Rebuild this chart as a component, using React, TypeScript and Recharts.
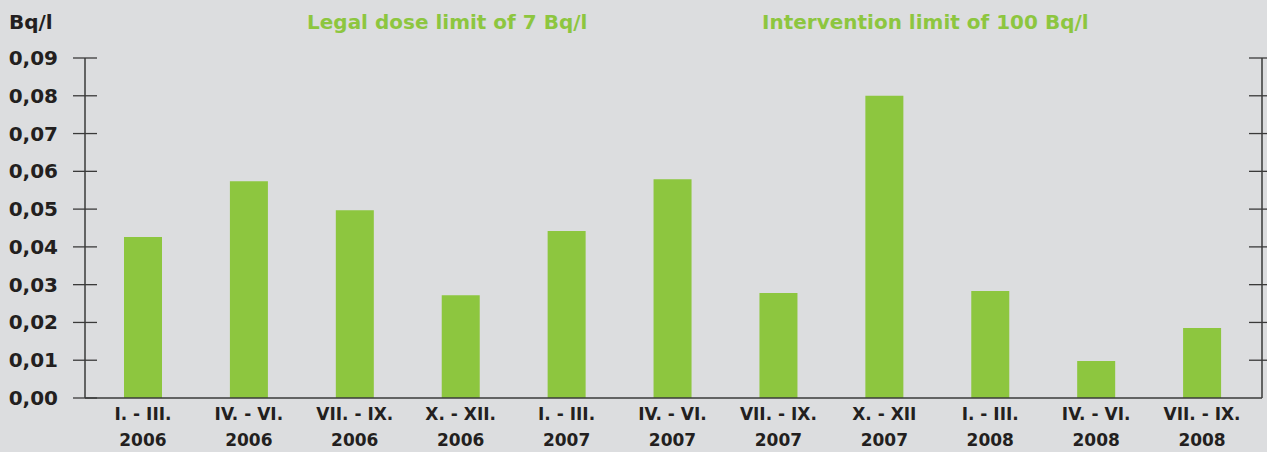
import React from 'react';
import { ComposedChart, Bar, Line, XAxis, YAxis } from 'recharts';

const periods = ['I. - III.', 'IV. - VI.', 'VII. - IX.', 'X. - XII.', 'I. - III.', 'IV. - VI.', 'VII. - IX.', 'X. - XII', 'I. - III.', 'IV. - VI.', 'VII. - IX.'];
const years = ['2006', '2006', '2006', '2006', '2007', '2007', '2007', '2007', '2008', '2008', '2008'];
const values = [0.0426, 0.0574, 0.0497, 0.0272, 0.0442, 0.0579, 0.0278, 0.080, 0.0283, 0.0098, 0.0185];
const yTicks = [0, 0.01, 0.02, 0.03, 0.04, 0.05, 0.06, 0.07, 0.08, 0.09];
const unitLabel = 'Bq/l';
const titles = ['Legal dose limit of 7 Bq/l', 'Intervention limit of 100 Bq/l'];

const data = periods.map((p, i) => ({ key: i, period: p, year: years[i], value: values[i] }));

const FONT = '"DejaVu Sans", sans-serif';
const TEXT = '#231f20';
const GREEN = '#8dc63f';
const AXIS = '#3a3a3a';

const LeftTick = (props: any) => {
  const { x, y, payload } = props;
  const ax = x + 16;
  return (
    <g>
      <line x1={ax - 12} x2={ax + 12} y1={y} y2={y} stroke={AXIS} strokeWidth={1.3} />
      <text x={x - 11} y={y} dy={7} textAnchor="end" fontFamily={FONT} fontWeight="bold" fontSize={20} fill={TEXT}>
        {payload.value.toFixed(2).replace('.', ',')}
      </text>
    </g>
  );
};

const RightTick = (props: any) => {
  const { x, y, payload } = props;
  if (payload.value === 0) return <g />;
  return <line x1={x - 13} x2={x + 6} y1={y} y2={y} stroke={AXIS} strokeWidth={1.3} />;
};

const XTick = (props: any) => {
  const { x, y, payload } = props;
  const d = data[payload.value];
  return (
    <g>
      <text x={x} y={y} dy={14} textAnchor="middle" fontFamily={FONT} fontWeight="bold" fontSize={17} fill={TEXT}>
        {d.period}
      </text>
      <text x={x} y={y} dy={40} textAnchor="middle" fontFamily={FONT} fontWeight="bold" fontSize={17} fill={TEXT}>
        {d.year}
      </text>
    </g>
  );
};

export default function App() {
  return (
    <div style={{ position: 'absolute', left: 0, top: 0, width: 1267, height: 452, background: '#dcdddf', overflow: 'hidden' }}>
      <div style={{ position: 'absolute', left: 9, top: 10, fontFamily: FONT, fontWeight: 'bold', fontSize: 20, color: TEXT }}>{unitLabel}</div>
      <div style={{ position: 'absolute', left: 307, top: 10, fontFamily: FONT, fontWeight: 'bold', fontSize: 20, color: GREEN }}>{titles[0]}</div>
      <div style={{ position: 'absolute', left: 762, top: 10, fontFamily: FONT, fontWeight: 'bold', fontSize: 20, color: GREEN }}>{titles[1]}</div>
      <div style={{ position: 'absolute', left: 0, top: 0 }}>
        <ComposedChart width={1267} height={452} data={data} margin={{ top: 58, right: 0, bottom: 0, left: 0 }}>
          <XAxis
            dataKey="key"
            type="category"
            height={54}
            tick={<XTick />}
            tickLine={false}
            axisLine={{ stroke: AXIS, strokeWidth: 1.5 }}
            padding={{ left: 5, right: 7 }}
            interval={0}
          />
          <YAxis
            yAxisId="left"
            width={85}
            domain={[0, 0.09]}
            ticks={yTicks}
            tickLine={false}
            tickSize={12}
            tickMargin={4}
            tick={<LeftTick />}
            axisLine={{ stroke: AXIS, strokeWidth: 1.5 }}
            interval={0}
          />
          <YAxis
            yAxisId="right"
            orientation="right"
            width={5}
            domain={[0, 0.09]}
            ticks={yTicks}
            tickLine={false}
            tickSize={0}
            tickMargin={0}
            tick={<RightTick />}
            axisLine={{ stroke: AXIS, strokeWidth: 1.5 }}
            interval={0}
          />
          <Bar yAxisId="left" dataKey="value" fill={GREEN} barSize={38} isAnimationActive={false} />
          <Line yAxisId="right" dataKey="value" stroke="none" dot={false} activeDot={false} legendType="none" isAnimationActive={false} />
        </ComposedChart>
      </div>
    </div>
  );
}
